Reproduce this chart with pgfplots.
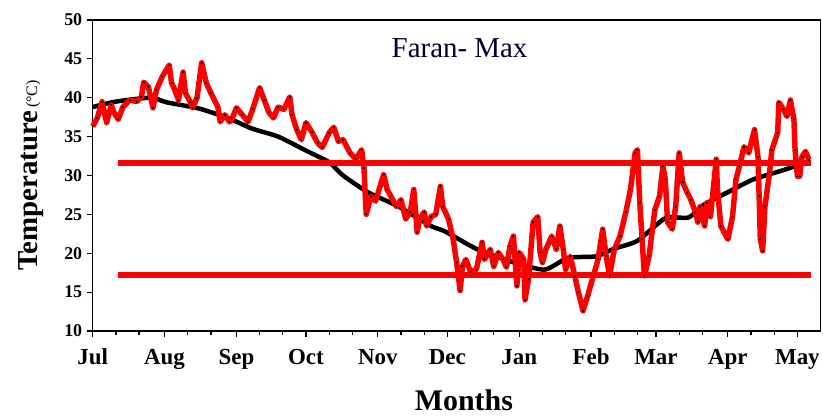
\documentclass[border=0pt]{standalone}
\usepackage{fontspec}
\setmainfont{Liberation Serif}
\usepackage{pgfplots}
\pgfplotsset{compat=1.18}
\begin{document}
\begin{tikzpicture}
\begin{axis}[
  scale only axis, width=730pt, height=312pt,
  xmin=0, xmax=314, ymin=10, ymax=50,
  xtick={0,31,62,92,123,153,184,215,243,274,304},
  xticklabels={Jul,Aug,Sep,Oct,Nov,Dec,Jan,Feb,Mar,Apr,May},
  minor xtick={10,20,41,51,72,82,102,112,133,143,163,173,194,204,225,235,253,263,284,294},
  ytick={10,15,...,50},
  tick align=outside, xtick pos=bottom, ytick pos=left,
  major tick length=6pt, minor tick length=4pt,
  tick style={black, line width=1.2pt},
  axis line style={black, line width=1.5pt},
  /pgf/number format/assume math mode=true,
  yticklabel style={font=\bfseries\fontsize{18}{18}\selectfont, xshift=-1pt},
  xticklabel style={font=\bfseries\fontsize{23}{23}\selectfont, anchor=base, yshift=-28pt},
  xlabel={Months},
  xlabel style={font=\bfseries\fontsize{30}{30}\selectfont, at={(axis description cs:0.51,0)}, anchor=center, yshift=-69pt},
  ylabel={{\bfseries\fontsize{29}{29}\selectfont Temperature} {\fontsize{16}{16}\selectfont (°C)}},
  ylabel style={at={(axis description cs:-0.085,0.5)}, anchor=center},
  clip=false,
]
\coordinate (sw) at (rel axis cs:0,0);
\coordinate (ne) at (rel axis cs:1,1);
\node[font=\fontsize{29}{29}\selectfont, text=black!80!blue] at (axis description cs:0.504,0.91) {Faran- Max};
% climatology
\addplot[black, line width=4.5pt, smooth, tension=0.4] coordinates {
(0,38.8) (10,39.5) (25,40.0) (32,39.4) (46,38.6) (59,37.3) (69,36.0) (80,35.0)
(92,33.2) (102,31.7) (108,30.0) (119,27.8) (132,26.0) (146,23.5) (152,22.8)
(166,20.5) (182,18.8) (195,17.9) (205,19.4) (217,19.6) (225,20.6) (235,21.6)
(247,24.5) (257,24.6) (264,26.3) (275,28.0) (285,29.5) (297,30.6) (304,31.3) (309,31.8)
};
% thresholds
\addplot[red, line width=6pt] coordinates {(11,31.6) (310,31.6)};
\addplot[red, line width=6pt] coordinates {(11,17.2) (310,17.2)};
% daily
\addplot[red, line width=5.5pt, line join=round, mark=*, mark size=0.5pt, mark options={black, fill=black, line width=0pt}] coordinates {
(0,36.3) (2,37.4) (4,39.5) (6,36.8) (8,39.1) (9,38.2) (11,37.2) (13,38.8) (16,39.7)
(19,39.5) (21,40.1) (22,42.0) (24,41.4) (26,38.7) (27.5,41.0) (30,42.7) (33,44.2)
(34,41.9) (35,41.3) (37,39.7) (39,43.3) (40,40.6) (42,39.5) (43,38.7) (45,40.0)
(47,44.5) (49,41.9) (51,40.6) (54,38.8) (55,36.9) (57,37.8) (59,36.9) (60,37.2)
(62,38.7) (64.5,37.8) (67,36.9) (69,38.5) (72,41.3) (74,39.7) (76,38.1) (78,37.4)
(80,38.8) (82.5,38.5) (85,40.1) (86,37.8) (88,35.9) (90,34.6) (92,36.8) (94.5,35.6)
(97,34.2) (99,33.6) (102,35.5) (104,36.2) (106,34.4) (108,34.6) (111,32.9) (113.5,32.1)
(116,33.3) (117,31.0) (118,25.0) (120,27.3) (122,26.7) (125.5,30.1) (127,28.2) (131,26.0)
(133,26.9) (135,24.4) (137,25.3) (138.5,28.2) (140,22.7) (141,24.4) (143,25.3) (144,23.5)
(146,24.7) (148,25.0) (150,28.6) (151,26.0) (153.5,24.4) (155.5,21.8) (157,18.8) (158.5,15.2)
(159.5,18.3) (161,19.2) (163,17.6) (165.5,17.9) (168,21.4) (169,19.2) (171.5,20.5) (173,18.3)
(175,20.1) (177,19.2) (178.5,18.2) (180,20.9) (181.5,22.2) (183,15.8) (184,20.1) (186,19.2)
(186.5,14.0) (188,16.7) (190,24.0) (192,24.7) (193,20.1) (194,18.8) (195.5,20.5) (198,22.2)
(200,20.5) (201.5,23.5) (203,20.5) (204,17.9) (206,19.6) (208,17.1) (209.5,15.0) (211.5,12.6)
(213.5,14.5) (216,17.1) (218,19.2) (220,23.1) (221.5,19.6) (223,17.1) (225,20.5) (227.5,22.2)
(230,25.3) (232,28.2) (234,32.9) (235,33.3) (236,26.5) (237,21.8) (238,17.1) (240,19.6)
(242.5,25.6) (244.5,27.3) (246,31.2) (247,29.5) (248,24.0) (250,23.1) (251.5,26.0) (253,32.9)
(254.5,29.1) (256.5,27.8) (258,26.9) (260,25.3) (261,24.0) (262,26.0) (264,23.5) (265,26.5)
(266.5,24.7) (269,32.1) (269.5,28.2) (271,23.5) (274,21.8) (276,24.7) (277.5,29.5) (279,31.2)
(281,33.7) (283,32.9) (285.5,35.9) (287,32.4) (287.5,27.3) (288,21.8) (289,20.3) (290,26.0)
(292,30.4) (293,33.3) (295.5,35.5) (296,39.4) (298,38.5) (299.5,37.6) (301,39.7) (302.5,37.2)
(303,33.3) (304,29.9) (305,29.9) (306,32.4) (307.5,33.1) (309,32.0)
};
\end{axis}
\path ([xshift=-93pt,yshift=-86pt]sw) rectangle ([yshift=20pt]ne);
\end{tikzpicture}
\end{document}
